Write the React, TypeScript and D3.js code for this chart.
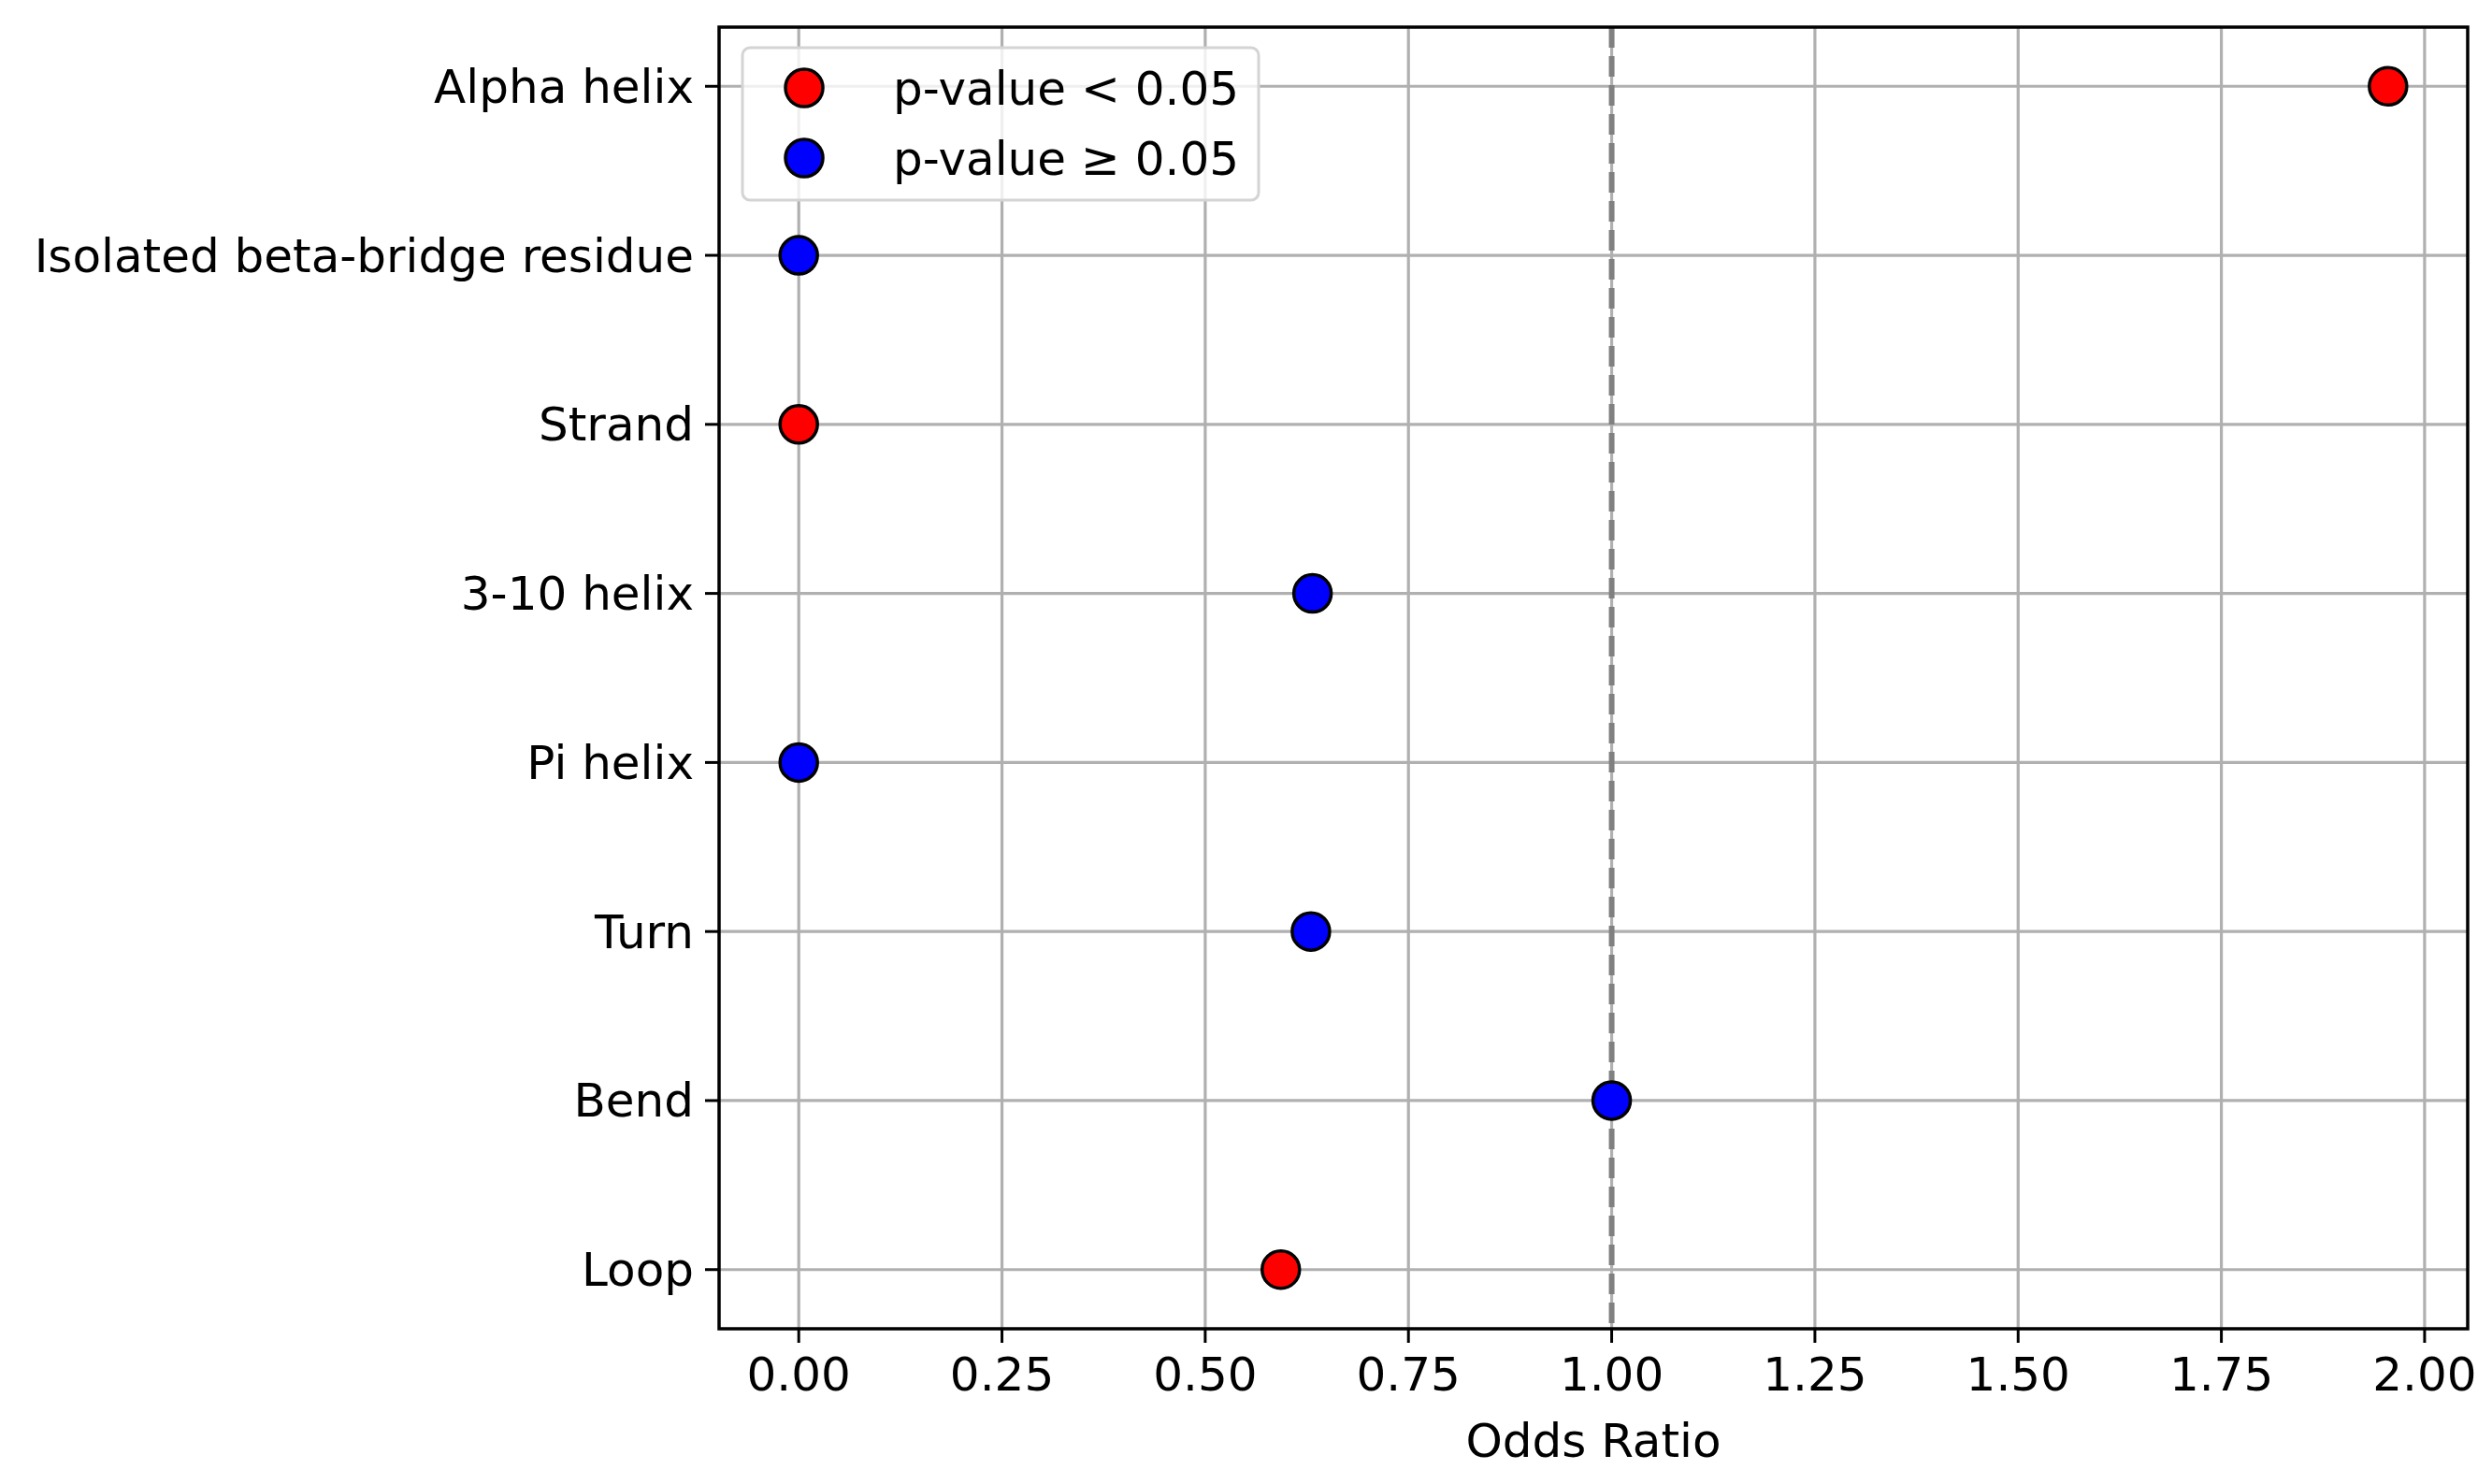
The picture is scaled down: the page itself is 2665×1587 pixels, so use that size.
import { useEffect, useRef } from "react";
import * as d3 from "d3";

const categories = ["Alpha helix", "Isolated beta-bridge residue", "Strand", "3-10 helix", "Pi helix", "Turn", "Bend", "Loop"];
const oddsRatios = [1.955, 0, 0, 0.632, 0, 0.63, 1.0, 0.593];
const significant = [true, false, true, false, false, false, false, true];
const xTicks = [0, 0.25, 0.5, 0.75, 1.0, 1.25, 1.5, 1.75, 2.0];

const W = 2665, H = 1587;
const m = { left: 769, right: 2639, top: 29, bottom: 1421 };
const FONT = "DejaVu Sans, sans-serif";
const FS = 50;

export default function App() {
  const ref = useRef<SVGSVGElement>(null);

  useEffect(() => {
    if (!ref.current) return;
    const svg = d3.select(ref.current);
    svg.selectAll("*").remove();

    const x = d3.scaleLinear().domain([-0.098, 2.053]).range([m.left, m.right]);
    const y = d3.scaleLinear().domain([-0.35, categories.length - 0.65]).range([m.top, m.bottom]);

    const g = svg.append("g");
    // grid
    g.selectAll(".gx").data(xTicks).enter().append("line")
      .attr("x1", (d) => x(d)).attr("x2", (d) => x(d))
      .attr("y1", m.top).attr("y2", m.bottom)
      .attr("stroke", "#b0b0b0").attr("stroke-width", 3.2);
    g.selectAll(".gy").data(categories).enter().append("line")
      .attr("x1", m.left).attr("x2", m.right)
      .attr("y1", (_, i) => y(i)).attr("y2", (_, i) => y(i))
      .attr("stroke", "#b0b0b0").attr("stroke-width", 3.2);

    // reference line
    g.append("line")
      .attr("x1", x(1)).attr("x2", x(1)).attr("y1", m.top).attr("y2", m.bottom)
      .attr("stroke", "#808080").attr("stroke-width", 6).attr("stroke-dasharray", "22,9");

    // points
    g.selectAll("circle.pt").data(oddsRatios).enter().append("circle")
      .attr("cx", (d) => x(d)).attr("cy", (_, i) => y(i)).attr("r", 20)
      .attr("fill", (_, i) => (significant[i] ? "red" : "blue"))
      .attr("stroke", "black").attr("stroke-width", 3.5);

    // frame
    g.append("rect").attr("x", m.left).attr("y", m.top)
      .attr("width", m.right - m.left).attr("height", m.bottom - m.top)
      .attr("fill", "none").attr("stroke", "black").attr("stroke-width", 3.5);

    // x ticks
    xTicks.forEach((t) => {
      g.append("line").attr("x1", x(t)).attr("x2", x(t)).attr("y1", m.bottom).attr("y2", m.bottom + 15)
        .attr("stroke", "black").attr("stroke-width", 3);
      g.append("text").attr("x", x(t)).attr("y", m.bottom + 28).attr("dy", "0.76em")
        .attr("text-anchor", "middle").attr("font-family", FONT).attr("font-size", FS)
        .text(d3.format(".2f")(t));
    });
    // y ticks
    categories.forEach((c, i) => {
      g.append("line").attr("x1", m.left - 15).attr("x2", m.left).attr("y1", y(i)).attr("y2", y(i))
        .attr("stroke", "black").attr("stroke-width", 3);
      g.append("text").attr("x", m.left - 27).attr("y", y(i)).attr("dy", "0.35em")
        .attr("text-anchor", "end").attr("font-family", FONT).attr("font-size", FS).text(c);
    });

    g.append("text").attr("x", (m.left + m.right) / 2).attr("y", 1558)
      .attr("text-anchor", "middle").attr("font-family", FONT).attr("font-size", FS).text("Odds Ratio");

    // legend
    const lg = g.append("g");
    lg.append("rect").attr("x", 794).attr("y", 51).attr("width", 552).attr("height", 163).attr("rx", 8)
      .attr("fill", "white").attr("fill-opacity", 0.8).attr("stroke", "#d4d4d4").attr("stroke-width", 3);
    [["red", "p-value < 0.05"], ["blue", "p-value ≥ 0.05"]].forEach(([col, label], i) => {
      const cy = 94 + i * 75;
      lg.append("circle").attr("cx", 860).attr("cy", cy).attr("r", 20)
        .attr("fill", col).attr("stroke", "black").attr("stroke-width", 3.5);
      lg.append("text").attr("x", 955).attr("y", cy).attr("dy", "0.35em")
        .attr("font-family", FONT).attr("font-size", FS).text(label);
    });
  }, []);

  return <svg ref={ref} width={W} height={H} style={{ display: "block", background: "white", margin: -8 }} />;
}
